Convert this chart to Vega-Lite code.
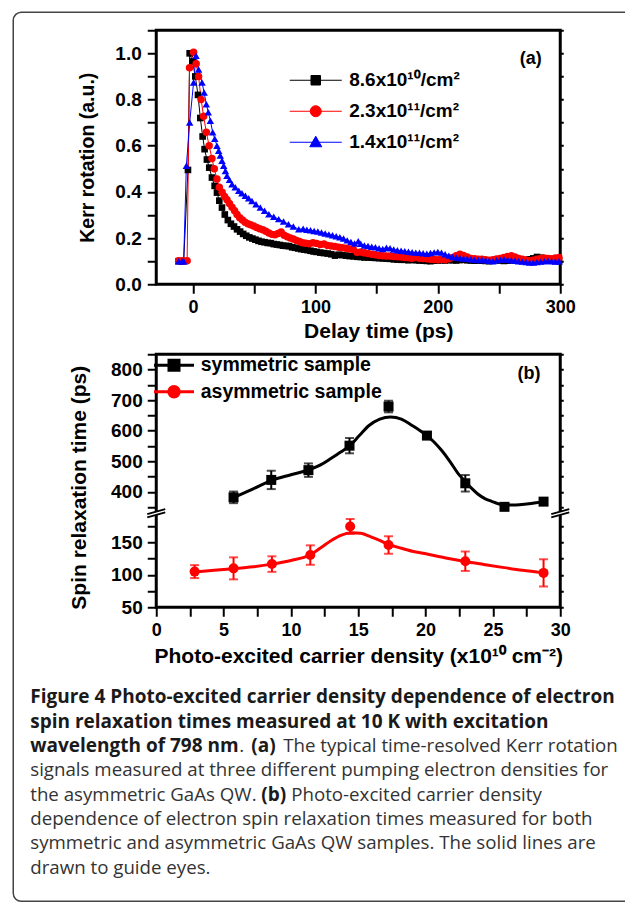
{
"$schema": "https://vega.github.io/schema/vega-lite/v6.json",
"background": "white",
"padding": {"left": 10.25, "top": 9.25, "right": 0, "bottom": 0},
"bounds": "flush",
"spacing": 70,
"resolve": {
  "scale": {"color": "independent", "fill": "independent", "stroke": "independent", "shape": "independent"},
  "legend": {"color": "independent", "fill": "independent", "stroke": "independent", "shape": "independent"}
},
"config": {
  "font": "Liberation Sans",
  "view": {"stroke": null},
  "axis": {"labelFont": "Liberation Sans", "labelFontWeight": "bold", "labelFontSize": 18, "labelColor": "black",
           "titleFont": "Liberation Sans", "titleFontWeight": "bold", "titleFontSize": 21, "titleColor": "black",
           "tickColor": "black", "tickWidth": 2, "tickSize": 9, "domain": false, "grid": false, "zindex": 0,
           "labelFlush": false, "labelOverlap": false, "labelPadding": 5}
},
"datasets": {
  "kerr": [
    {"s":"8.6e10","t":-11.7,"k":0.100},{"s":"8.6e10","t":-9.6,"k":0.100},{"s":"8.6e10","t":-7.6,"k":0.100},{"s":"8.6e10","t":-4.1,"k":0.495},{"s":"8.6e10","t":-2.7,"k":1.000},{"s":"8.6e10","t":-0.4,"k":0.965},{"s":"8.6e10","t":1.9,"k":0.900},{"s":"8.6e10","t":4.1,"k":0.820},{"s":"8.6e10","t":6.0,"k":0.720},{"s":"8.6e10","t":7.9,"k":0.640},{"s":"8.6e10","t":9.5,"k":0.585},{"s":"8.6e10","t":11.4,"k":0.540},{"s":"8.6e10","t":13.3,"k":0.505},{"s":"8.6e10","t":15.5,"k":0.462},{"s":"8.6e10","t":17.7,"k":0.426},{"s":"8.6e10","t":19.6,"k":0.397},{"s":"8.6e10","t":21.5,"k":0.362},{"s":"8.6e10","t":23.7,"k":0.332},{"s":"8.6e10","t":26.0,"k":0.302},{"s":"8.6e10","t":28.5,"k":0.278},{"s":"8.6e10","t":31.0,"k":0.262},{"s":"8.6e10","t":33.5,"k":0.250},{"s":"8.6e10","t":36.0,"k":0.238},{"s":"8.6e10","t":38.5,"k":0.228},{"s":"8.6e10","t":41.0,"k":0.218},{"s":"8.6e10","t":43.5,"k":0.210},{"s":"8.6e10","t":46.0,"k":0.203},{"s":"8.6e10","t":48.5,"k":0.198},{"s":"8.6e10","t":51.0,"k":0.193},{"s":"8.6e10","t":53.5,"k":0.188},{"s":"8.6e10","t":56.0,"k":0.184},{"s":"8.6e10","t":58.5,"k":0.182},{"s":"8.6e10","t":61.0,"k":0.179},{"s":"8.6e10","t":63.5,"k":0.178},{"s":"8.6e10","t":66.0,"k":0.174},{"s":"8.6e10","t":68.5,"k":0.172},{"s":"8.6e10","t":71.0,"k":0.170},{"s":"8.6e10","t":73.5,"k":0.167},{"s":"8.6e10","t":76.0,"k":0.166},{"s":"8.6e10","t":78.5,"k":0.165},{"s":"8.6e10","t":81.0,"k":0.160},{"s":"8.6e10","t":83.5,"k":0.158},{"s":"8.6e10","t":86.0,"k":0.155},{"s":"8.6e10","t":88.5,"k":0.152},{"s":"8.6e10","t":91.0,"k":0.150},{"s":"8.6e10","t":93.5,"k":0.148},{"s":"8.6e10","t":96.0,"k":0.145},{"s":"8.6e10","t":98.5,"k":0.142},{"s":"8.6e10","t":101,"k":0.140},{"s":"8.6e10","t":104,"k":0.137},{"s":"8.6e10","t":107,"k":0.135},{"s":"8.6e10","t":110,"k":0.133},{"s":"8.6e10","t":113,"k":0.130},{"s":"8.6e10","t":116,"k":0.124},{"s":"8.6e10","t":119,"k":0.128},{"s":"8.6e10","t":122,"k":0.126},{"s":"8.6e10","t":125,"k":0.124},{"s":"8.6e10","t":128,"k":0.122},{"s":"8.6e10","t":131,"k":0.121},{"s":"8.6e10","t":134,"k":0.119},{"s":"8.6e10","t":137,"k":0.118},{"s":"8.6e10","t":140,"k":0.116},{"s":"8.6e10","t":143,"k":0.116},{"s":"8.6e10","t":146,"k":0.115},{"s":"8.6e10","t":149,"k":0.114},{"s":"8.6e10","t":152,"k":0.113},{"s":"8.6e10","t":155,"k":0.112},{"s":"8.6e10","t":158,"k":0.111},{"s":"8.6e10","t":161,"k":0.110},{"s":"8.6e10","t":164,"k":0.108},{"s":"8.6e10","t":167,"k":0.107},{"s":"8.6e10","t":170,"k":0.106},{"s":"8.6e10","t":173,"k":0.106},{"s":"8.6e10","t":176,"k":0.104},{"s":"8.6e10","t":179,"k":0.106},{"s":"8.6e10","t":182,"k":0.104},{"s":"8.6e10","t":185,"k":0.103},{"s":"8.6e10","t":188,"k":0.102},{"s":"8.6e10","t":191,"k":0.101},{"s":"8.6e10","t":194,"k":0.100},{"s":"8.6e10","t":197,"k":0.102},{"s":"8.6e10","t":200,"k":0.103},{"s":"8.6e10","t":203,"k":0.104},{"s":"8.6e10","t":206,"k":0.103},{"s":"8.6e10","t":209,"k":0.105},{"s":"8.6e10","t":212,"k":0.104},{"s":"8.6e10","t":215,"k":0.103},{"s":"8.6e10","t":218,"k":0.105},{"s":"8.6e10","t":221,"k":0.106},{"s":"8.6e10","t":224,"k":0.104},{"s":"8.6e10","t":227,"k":0.103},{"s":"8.6e10","t":230,"k":0.102},{"s":"8.6e10","t":233,"k":0.103},{"s":"8.6e10","t":236,"k":0.102},{"s":"8.6e10","t":239,"k":0.101},{"s":"8.6e10","t":242,"k":0.100},{"s":"8.6e10","t":245,"k":0.102},{"s":"8.6e10","t":248,"k":0.104},{"s":"8.6e10","t":251,"k":0.103},{"s":"8.6e10","t":254,"k":0.101},{"s":"8.6e10","t":257,"k":0.102},{"s":"8.6e10","t":260,"k":0.104},{"s":"8.6e10","t":263,"k":0.106},{"s":"8.6e10","t":266,"k":0.104},{"s":"8.6e10","t":269,"k":0.103},{"s":"8.6e10","t":272,"k":0.105},{"s":"8.6e10","t":275,"k":0.108},{"s":"8.6e10","t":278,"k":0.112},{"s":"8.6e10","t":281,"k":0.118},{"s":"8.6e10","t":284,"k":0.115},{"s":"8.6e10","t":287,"k":0.110},{"s":"8.6e10","t":290,"k":0.108},{"s":"8.6e10","t":293,"k":0.104},{"s":"8.6e10","t":296,"k":0.102},{"s":"8.6e10","t":299,"k":0.100},
    {"s":"2.3e11","t":-11.7,"k":0.102},{"s":"2.3e11","t":-8.2,"k":0.102},{"s":"2.3e11","t":-4.8,"k":0.102},{"s":"2.3e11","t":-2.8,"k":0.938},{"s":"2.3e11","t":0.5,"k":1.005},{"s":"2.3e11","t":2.6,"k":0.955},{"s":"2.3e11","t":4.6,"k":0.900},{"s":"2.3e11","t":6.6,"k":0.800},{"s":"2.3e11","t":8.7,"k":0.728},{"s":"2.3e11","t":10.9,"k":0.658},{"s":"2.3e11","t":13.2,"k":0.600},{"s":"2.3e11","t":15.5,"k":0.545},{"s":"2.3e11","t":17.4,"k":0.500},{"s":"2.3e11","t":19.6,"k":0.456},{"s":"2.3e11","t":21.5,"k":0.420},{"s":"2.3e11","t":23.8,"k":0.398},{"s":"2.3e11","t":25.8,"k":0.380},{"s":"2.3e11","t":27.8,"k":0.366},{"s":"2.3e11","t":29.8,"k":0.350},{"s":"2.3e11","t":31.9,"k":0.334},{"s":"2.3e11","t":34.0,"k":0.318},{"s":"2.3e11","t":36.0,"k":0.302},{"s":"2.3e11","t":38.2,"k":0.288},{"s":"2.3e11","t":40.4,"k":0.278},{"s":"2.3e11","t":42.6,"k":0.268},{"s":"2.3e11","t":44.8,"k":0.262},{"s":"2.3e11","t":47.0,"k":0.258},{"s":"2.3e11","t":49.5,"k":0.252},{"s":"2.3e11","t":52.0,"k":0.246},{"s":"2.3e11","t":54.5,"k":0.240},{"s":"2.3e11","t":57.0,"k":0.236},{"s":"2.3e11","t":59.5,"k":0.230},{"s":"2.3e11","t":62.0,"k":0.222},{"s":"2.3e11","t":64.5,"k":0.216},{"s":"2.3e11","t":67.0,"k":0.214},{"s":"2.3e11","t":69.5,"k":0.220},{"s":"2.3e11","t":72.0,"k":0.226},{"s":"2.3e11","t":74.5,"k":0.212},{"s":"2.3e11","t":77.0,"k":0.206},{"s":"2.3e11","t":79.5,"k":0.200},{"s":"2.3e11","t":82.0,"k":0.196},{"s":"2.3e11","t":84.5,"k":0.190},{"s":"2.3e11","t":87.0,"k":0.185},{"s":"2.3e11","t":89.5,"k":0.180},{"s":"2.3e11","t":92.0,"k":0.178},{"s":"2.3e11","t":95.0,"k":0.175},{"s":"2.3e11","t":98.0,"k":0.180},{"s":"2.3e11","t":101,"k":0.177},{"s":"2.3e11","t":104,"k":0.172},{"s":"2.3e11","t":107,"k":0.174},{"s":"2.3e11","t":110,"k":0.168},{"s":"2.3e11","t":113,"k":0.166},{"s":"2.3e11","t":116,"k":0.163},{"s":"2.3e11","t":119,"k":0.160},{"s":"2.3e11","t":122,"k":0.158},{"s":"2.3e11","t":125,"k":0.156},{"s":"2.3e11","t":128,"k":0.153},{"s":"2.3e11","t":131,"k":0.150},{"s":"2.3e11","t":134,"k":0.138},{"s":"2.3e11","t":137,"k":0.140},{"s":"2.3e11","t":140,"k":0.136},{"s":"2.3e11","t":143,"k":0.133},{"s":"2.3e11","t":146,"k":0.130},{"s":"2.3e11","t":149,"k":0.128},{"s":"2.3e11","t":152,"k":0.125},{"s":"2.3e11","t":155,"k":0.123},{"s":"2.3e11","t":158,"k":0.122},{"s":"2.3e11","t":161,"k":0.122},{"s":"2.3e11","t":164,"k":0.120},{"s":"2.3e11","t":167,"k":0.119},{"s":"2.3e11","t":170,"k":0.118},{"s":"2.3e11","t":173,"k":0.116},{"s":"2.3e11","t":176,"k":0.115},{"s":"2.3e11","t":179,"k":0.113},{"s":"2.3e11","t":182,"k":0.116},{"s":"2.3e11","t":185,"k":0.113},{"s":"2.3e11","t":188,"k":0.112},{"s":"2.3e11","t":191,"k":0.110},{"s":"2.3e11","t":194,"k":0.108},{"s":"2.3e11","t":197,"k":0.107},{"s":"2.3e11","t":200,"k":0.106},{"s":"2.3e11","t":203,"k":0.108},{"s":"2.3e11","t":206,"k":0.106},{"s":"2.3e11","t":209,"k":0.110},{"s":"2.3e11","t":212,"k":0.116},{"s":"2.3e11","t":215,"k":0.124},{"s":"2.3e11","t":218,"k":0.130},{"s":"2.3e11","t":221,"k":0.125},{"s":"2.3e11","t":224,"k":0.118},{"s":"2.3e11","t":227,"k":0.112},{"s":"2.3e11","t":230,"k":0.110},{"s":"2.3e11","t":233,"k":0.108},{"s":"2.3e11","t":236,"k":0.108},{"s":"2.3e11","t":239,"k":0.106},{"s":"2.3e11","t":242,"k":0.104},{"s":"2.3e11","t":245,"k":0.106},{"s":"2.3e11","t":248,"k":0.109},{"s":"2.3e11","t":251,"k":0.112},{"s":"2.3e11","t":254,"k":0.116},{"s":"2.3e11","t":257,"k":0.120},{"s":"2.3e11","t":260,"k":0.123},{"s":"2.3e11","t":263,"k":0.118},{"s":"2.3e11","t":266,"k":0.112},{"s":"2.3e11","t":269,"k":0.108},{"s":"2.3e11","t":272,"k":0.105},{"s":"2.3e11","t":275,"k":0.102},{"s":"2.3e11","t":278,"k":0.104},{"s":"2.3e11","t":281,"k":0.108},{"s":"2.3e11","t":284,"k":0.112},{"s":"2.3e11","t":287,"k":0.114},{"s":"2.3e11","t":290,"k":0.112},{"s":"2.3e11","t":293,"k":0.110},{"s":"2.3e11","t":296,"k":0.114},{"s":"2.3e11","t":299,"k":0.116},
    {"s":"1.4e11","t":-11.7,"k":0.100},{"s":"1.4e11","t":-9.0,"k":0.100},{"s":"1.4e11","t":-7.6,"k":0.100},{"s":"1.4e11","t":-5.4,"k":0.513},{"s":"1.4e11","t":-2.7,"k":0.700},{"s":"1.4e11","t":0.5,"k":0.874},{"s":"1.4e11","t":2.5,"k":0.990},{"s":"1.4e11","t":4.6,"k":0.930},{"s":"1.4e11","t":7.4,"k":0.874},{"s":"1.4e11","t":9.1,"k":0.830},{"s":"1.4e11","t":10.9,"k":0.780},{"s":"1.4e11","t":12.5,"k":0.745},{"s":"1.4e11","t":14.2,"k":0.708},{"s":"1.4e11","t":16.1,"k":0.658},{"s":"1.4e11","t":17.8,"k":0.630},{"s":"1.4e11","t":19.6,"k":0.600},{"s":"1.4e11","t":21.0,"k":0.578},{"s":"1.4e11","t":22.3,"k":0.557},{"s":"1.4e11","t":23.7,"k":0.535},{"s":"1.4e11","t":25.1,"k":0.513},{"s":"1.4e11","t":26.5,"k":0.490},{"s":"1.4e11","t":27.8,"k":0.470},{"s":"1.4e11","t":29.8,"k":0.452},{"s":"1.4e11","t":31.9,"k":0.433},{"s":"1.4e11","t":34.5,"k":0.420},{"s":"1.4e11","t":37.4,"k":0.405},{"s":"1.4e11","t":40.0,"k":0.394},{"s":"1.4e11","t":42.8,"k":0.383},{"s":"1.4e11","t":45.5,"k":0.372},{"s":"1.4e11","t":48.2,"k":0.361},{"s":"1.4e11","t":51.5,"k":0.346},{"s":"1.4e11","t":55.0,"k":0.332},{"s":"1.4e11","t":58.5,"k":0.318},{"s":"1.4e11","t":62.0,"k":0.303},{"s":"1.4e11","t":66.0,"k":0.292},{"s":"1.4e11","t":70.0,"k":0.282},{"s":"1.4e11","t":74.0,"k":0.272},{"s":"1.4e11","t":78.0,"k":0.260},{"s":"1.4e11","t":82.0,"k":0.250},{"s":"1.4e11","t":86.4,"k":0.238},{"s":"1.4e11","t":90,"k":0.240},{"s":"1.4e11","t":93,"k":0.236},{"s":"1.4e11","t":96,"k":0.234},{"s":"1.4e11","t":99,"k":0.231},{"s":"1.4e11","t":102,"k":0.228},{"s":"1.4e11","t":105,"k":0.224},{"s":"1.4e11","t":108,"k":0.220},{"s":"1.4e11","t":111,"k":0.216},{"s":"1.4e11","t":114,"k":0.212},{"s":"1.4e11","t":117,"k":0.208},{"s":"1.4e11","t":120,"k":0.204},{"s":"1.4e11","t":123,"k":0.198},{"s":"1.4e11","t":126,"k":0.190},{"s":"1.4e11","t":129,"k":0.183},{"s":"1.4e11","t":132,"k":0.176},{"s":"1.4e11","t":135,"k":0.186},{"s":"1.4e11","t":137,"k":0.175},{"s":"1.4e11","t":140,"k":0.168},{"s":"1.4e11","t":143,"k":0.166},{"s":"1.4e11","t":146,"k":0.162},{"s":"1.4e11","t":149,"k":0.160},{"s":"1.4e11","t":152,"k":0.156},{"s":"1.4e11","t":155,"k":0.153},{"s":"1.4e11","t":158,"k":0.158},{"s":"1.4e11","t":161,"k":0.156},{"s":"1.4e11","t":164,"k":0.150},{"s":"1.4e11","t":167,"k":0.147},{"s":"1.4e11","t":170,"k":0.145},{"s":"1.4e11","t":173,"k":0.143},{"s":"1.4e11","t":176,"k":0.141},{"s":"1.4e11","t":179,"k":0.139},{"s":"1.4e11","t":182,"k":0.137},{"s":"1.4e11","t":185,"k":0.136},{"s":"1.4e11","t":188,"k":0.134},{"s":"1.4e11","t":191,"k":0.132},{"s":"1.4e11","t":194,"k":0.135},{"s":"1.4e11","t":197,"k":0.138},{"s":"1.4e11","t":200,"k":0.140},{"s":"1.4e11","t":203,"k":0.137},{"s":"1.4e11","t":206,"k":0.130},{"s":"1.4e11","t":209,"k":0.124},{"s":"1.4e11","t":212,"k":0.118},{"s":"1.4e11","t":215,"k":0.116},{"s":"1.4e11","t":218,"k":0.114},{"s":"1.4e11","t":221,"k":0.112},{"s":"1.4e11","t":224,"k":0.110},{"s":"1.4e11","t":227,"k":0.108},{"s":"1.4e11","t":230,"k":0.106},{"s":"1.4e11","t":233,"k":0.105},{"s":"1.4e11","t":236,"k":0.106},{"s":"1.4e11","t":239,"k":0.104},{"s":"1.4e11","t":242,"k":0.102},{"s":"1.4e11","t":245,"k":0.100},{"s":"1.4e11","t":248,"k":0.104},{"s":"1.4e11","t":251,"k":0.106},{"s":"1.4e11","t":254,"k":0.108},{"s":"1.4e11","t":257,"k":0.106},{"s":"1.4e11","t":260,"k":0.104},{"s":"1.4e11","t":263,"k":0.102},{"s":"1.4e11","t":266,"k":0.100},{"s":"1.4e11","t":269,"k":0.098},{"s":"1.4e11","t":272,"k":0.096},{"s":"1.4e11","t":275,"k":0.094},{"s":"1.4e11","t":278,"k":0.094},{"s":"1.4e11","t":281,"k":0.096},{"s":"1.4e11","t":284,"k":0.098},{"s":"1.4e11","t":287,"k":0.100},{"s":"1.4e11","t":290,"k":0.102},{"s":"1.4e11","t":293,"k":0.100},{"s":"1.4e11","t":296,"k":0.099},{"s":"1.4e11","t":299,"k":0.100}
  ],
  "sym": [
    {"s":"symmetric sample","n":5.74,"tau":382,"err":19},
    {"s":"symmetric sample","n":8.54,"tau":439,"err":30},
    {"s":"symmetric sample","n":11.3,"tau":471,"err":22},
    {"s":"symmetric sample","n":14.35,"tau":551,"err":25},
    {"s":"symmetric sample","n":17.25,"tau":679,"err":19},
    {"s":"symmetric sample","n":20.1,"tau":584,"err":9},
    {"s":"symmetric sample","n":22.95,"tau":428,"err":27},
    {"s":"symmetric sample","n":25.86,"tau":351,"err":9},
    {"s":"symmetric sample","n":28.76,"tau":368,"err":10}
  ],
  "asym": [
    {"s":"asymmetric sample","n":2.85,"tau":105,"err":10},
    {"s":"asymmetric sample","n":5.74,"tau":110,"err":17},
    {"s":"asymmetric sample","n":8.59,"tau":116.6,"err":12},
    {"s":"asymmetric sample","n":11.44,"tau":130.5,"err":15},
    {"s":"asymmetric sample","n":14.4,"tau":174.6,"err":11.5},
    {"s":"asymmetric sample","n":17.25,"tau":146,"err":13.5},
    {"s":"asymmetric sample","n":22.95,"tau":121,"err":15},
    {"s":"asymmetric sample","n":28.76,"tau":103,"err":21}
  ],
  "symcurve": [
    {"n":5.74,"tau":381},{"n":7.2,"tau":410},{"n":8.54,"tau":437},{"n":10.0,"tau":456},{"n":11.4,"tau":473},{"n":12.2,"tau":488},{"n":13.0,"tau":510},{"n":13.7,"tau":530},{"n":14.35,"tau":550},{"n":15.1,"tau":585},{"n":15.8,"tau":617},{"n":16.6,"tau":638},{"n":17.4,"tau":645},{"n":18.2,"tau":638},{"n":19.0,"tau":617},{"n":19.6,"tau":600},{"n":20.1,"tau":584},{"n":20.7,"tau":560},{"n":21.2,"tau":535},{"n":21.8,"tau":500},{"n":22.45,"tau":458},{"n":22.95,"tau":434},{"n":23.5,"tau":408},{"n":23.9,"tau":392},{"n":24.4,"tau":378},{"n":24.9,"tau":369},{"n":25.4,"tau":361},{"n":25.9,"tau":357},{"n":26.7,"tau":357},{"n":27.5,"tau":360},{"n":28.2,"tau":364},{"n":28.76,"tau":368}
  ],
  "asymcurve": [
    {"n":2.85,"tau":104.5},{"n":4.3,"tau":107},{"n":5.74,"tau":109.5},{"n":7.2,"tau":112.5},{"n":8.59,"tau":116.5},{"n":10.0,"tau":122},{"n":11.44,"tau":131},{"n":12.3,"tau":143},{"n":13.0,"tau":153},{"n":13.7,"tau":161},{"n":14.5,"tau":165},{"n":15.2,"tau":164},{"n":15.9,"tau":159},{"n":16.6,"tau":153},{"n":17.25,"tau":147},{"n":18.2,"tau":141},{"n":19.0,"tau":136.5},{"n":20.1,"tau":132},{"n":21.5,"tau":126},{"n":22.95,"tau":120.5},{"n":24.3,"tau":116},{"n":25.7,"tau":111.5},{"n":27.2,"tau":107},{"n":28.76,"tau":103}
  ],
  "caption": [
    {"line":1,"col":0,"bold":true,"txt":"Figure 4 Photo-excited carrier density dependence of electron"},
    {"line":2,"col":0,"bold":true,"txt":"spin relaxation times measured at 10 K with excitation"},
    {"line":3,"col":0,"bold":true,"txt":"wavelength of 798 nm"},
    {"line":3,"col":209,"bold":false,"txt":"."},
    {"line":3,"col":221,"bold":true,"txt":"(a)"},
    {"line":3,"col":253,"bold":false,"txt":"The typical time-resolved Kerr rotation"},
    {"line":4,"col":0,"bold":false,"txt":"signals measured at three different pumping electron densities for"},
    {"line":5,"col":0,"bold":false,"txt":"the asymmetric GaAs QW."},
    {"line":5,"col":231,"bold":true,"txt":"(b)"},
    {"line":5,"col":261,"bold":false,"txt":"Photo-excited carrier density"},
    {"line":6,"col":0,"bold":false,"txt":"dependence of electron spin relaxation times measured for both"},
    {"line":7,"col":0,"bold":false,"txt":"symmetric and asymmetric GaAs QW samples. The solid lines are"},
    {"line":8,"col":0,"bold":false,"txt":"drawn to guide eyes."}
  ]
},
"vconcat": [
  {
    "width": 404, "height": 254,
    "view": {"stroke": "black", "strokeWidth": 3},
    "data": {"name": "kerr"},
    "encoding": {
      "x": {"field": "t", "type": "quantitative", "title": "Delay time (ps)",
            "scale": {"domain": [-30, 300], "nice": false, "zero": false},
            "axis": {"values": [0,50,100,150,200,250,300], "labelExpr": "datum.value % 100 == 0 ? datum.label : ''", "titlePadding": 4, "titleX": 222}}
    },
    "layer": [
      {"transform": [{"filter": "datum.s == '8.6e10'"}],
       "mark": {"type": "line", "strokeWidth": 1, "color": "#000000"},
       "encoding": {
         "y": {"field": "k", "type": "quantitative", "title": "Kerr rotation (a.u.)",
               "scale": {"domain": [0, 1.1], "nice": false},
               "axis": {"orient": "left", "values": [0,0.1,0.2,0.3,0.4,0.5,0.6,0.7,0.8,0.9,1.0,1.1], "format": ".1f",
                        "labelExpr": "(round(datum.value*10) % 2 == 0 && datum.value < 1.05) ? datum.label : ''",
                        "labelFontSize": 19, "titleFontSize": 19.5, "titlePadding": 17, "labelPadding": 6}}
       }},
      {"transform": [{"filter": "datum.s == '2.3e11'"}],
       "mark": {"type": "line", "strokeWidth": 1, "color": "#ff0000"},
       "encoding": {"y": {"field": "k", "type": "quantitative", "axis": null}}},
      {"transform": [{"filter": "datum.s == '1.4e11'"}],
       "mark": {"type": "line", "strokeWidth": 1, "color": "#0000ff"},
       "encoding": {"y": {"field": "k", "type": "quantitative", "axis": null}}},
      {"transform": [{"filter": "datum.s == '8.6e10'"}],
       "mark": {"type": "point", "shape": "square", "filled": true, "opacity": 1, "size": 44, "color": "#000000"},
       "encoding": {"y": {"field": "k", "type": "quantitative", "axis": null}}},
      {"transform": [{"filter": "datum.s == '2.3e11'"}],
       "mark": {"type": "point", "shape": "circle", "filled": true, "opacity": 1, "size": 56, "color": "#ff0000"},
       "encoding": {"y": {"field": "k", "type": "quantitative", "axis": null}}},
      {"transform": [{"filter": "datum.s == '1.4e11'"}],
       "mark": {"type": "point", "shape": "triangle-up", "filled": true, "opacity": 1, "size": 56, "color": "#0000ff"},
       "encoding": {"y": {"field": "k", "type": "quantitative", "axis": null}}},
      {"transform": [{"filter": "false"}],
       "mark": {"type": "point", "filled": true, "opacity": 1, "size": 100, "strokeWidth": 1},
       "encoding": {
         "fill": {"field": "s", "type": "nominal", "scale": {"domain": ["8.6e10","2.3e11","1.4e11"], "range": ["#000000","#ff0000","#0000ff"]},
                  "legend": {"title": null, "orient": "none", "legendX": 150, "legendY": 40.5, "padding": 0, "labelFont": "Liberation Sans", "labelFontSize": 19, "labelFontWeight": "bold", "labelColor": "black", "labelOffset": 24, "rowPadding": 11, "symbolSize": 100, "symbolStrokeWidth": 1, "symbolOpacity": 1, "labelLimit": 300,
                             "labelExpr": "datum.label == '8.6e10' ? '8.6x10¹⁰/cm²' : datum.label == '2.3e11' ? '2.3x10¹¹/cm²' : '1.4x10¹¹/cm²'"}},
         "stroke": {"field": "s", "type": "nominal", "scale": {"domain": ["8.6e10","2.3e11","1.4e11"], "range": ["#000000","#ff0000","#0000ff"]},
                  "legend": {"title": null, "orient": "none", "legendX": 150, "legendY": 40.5, "padding": 0, "labelFont": "Liberation Sans", "labelFontSize": 19, "labelFontWeight": "bold", "labelColor": "black", "labelOffset": 24, "rowPadding": 11, "symbolSize": 100, "symbolStrokeWidth": 1, "symbolOpacity": 1, "labelLimit": 300,
                             "labelExpr": "datum.label == '8.6e10' ? '8.6x10¹⁰/cm²' : datum.label == '2.3e11' ? '2.3x10¹¹/cm²' : '1.4x10¹¹/cm²'"}},
         "shape": {"field": "s", "type": "nominal", "scale": {"domain": ["8.6e10","2.3e11","1.4e11"], "range": ["M-5.2,0H5.2M-0.95,-0.95H0.95V0.95H-0.95Z", "M-5.2,0H5.2M1.1,0A1.1,1.1,0,1,1,-1.1,0A1.1,1.1,0,1,1,1.1,0Z", "M-5.2,0H5.2M0,-1.2L1.2,0.9L-1.2,0.9Z"]},
                  "legend": {"title": null, "orient": "none", "legendX": 150, "legendY": 40.5, "padding": 0, "labelFont": "Liberation Sans", "labelFontSize": 19, "labelFontWeight": "bold", "labelColor": "black", "labelOffset": 24, "rowPadding": 11, "symbolSize": 100, "symbolStrokeWidth": 1, "symbolOpacity": 1, "labelLimit": 300,
                             "labelExpr": "datum.label == '8.6e10' ? '8.6x10¹⁰/cm²' : datum.label == '2.3e11' ? '2.3x10¹¹/cm²' : '1.4x10¹¹/cm²'"}}
       }},
      {"transform": [{"filter": "false"}],
       "mark": {"type": "point", "opacity": 0},
       "encoding": {
         "y": {"field": "k", "type": "quantitative", "axis": {"orient": "right", "labels": false, "title": null, "tickSize": 3, "values": [0,0.1,0.2,0.3,0.4,0.5,0.6,0.7,0.8,0.9,1.0,1.1]}}
       }},
      {"transform": [{"filter": "datum.s == '1.4e11' && datum.t == 299"}],
       "mark": {"type": "text", "text": "(a)", "font": "Liberation Sans", "fontSize": 18, "fontWeight": "bold", "color": "black", "align": "center", "baseline": "middle"},
       "encoding": {"x": {"datum": 276}, "y": {"datum": 0.976, "type": "quantitative", "axis": null}}}
    ],
    "resolve": {"axis": {"y": "independent"}}
  },
  {
    "width": 404, "height": 253,
    "view": {"stroke": "black", "strokeWidth": 3},
    "encoding": {
      "x": {"field": "n", "type": "quantitative", "title": "Photo-excited carrier density (x10¹⁰ cm⁻²)",
            "scale": {"domain": [0, 30], "nice": false, "zero": false},
            "axis": {"values": [0,2.5,5,7.5,10,12.5,15,17.5,20,22.5,25,27.5,30], "labelExpr": "datum.value % 5 == 0 ? datum.label : ''", "titlePadding": 6}}
    },
    "layer": [
      {
        "data": {"name": "sym"},
        "layer": [
          {"data": {"name": "symcurve"},
           "mark": {"type": "line", "strokeWidth": 3, "color": "black", "interpolate": "monotone"},
           "encoding": {"y": {"field": "tau", "type": "quantitative", "title": "Spin relaxation time (ps)",
                              "scale": {"domain": [330, 850], "range": [159, 0], "nice": false, "zero": false},
                              "axis": {"orient": "left", "values": [350,400,450,500,550,600,650,700,750,800,850],
                                       "labelExpr": "(datum.value % 100 == 0 && datum.value <= 800) ? datum.label : ''",
                                       "labelFontSize": 19, "titleY": 133, "titlePadding": 21, "labelPadding": 5}}}},
          {"mark": {"type": "errorbar", "ticks": true, "size": 9, "thickness": 2, "color": "black"},
           "encoding": {"y": {"field": "tau", "type": "quantitative", "axis": null}, "yError": {"field": "err"}}},
          {"mark": {"type": "point", "shape": "square", "filled": true, "size": 100, "color": "black", "opacity": 1},
           "encoding": {"y": {"field": "tau", "type": "quantitative", "axis": null}}},
          {"transform": [{"filter": "false"}],
           "mark": {"type": "point", "filled": true, "opacity": 1, "size": 100, "strokeWidth": 3},
           "encoding": {
             "fill": {"field": "s", "type": "nominal", "scale": {"domain": ["symmetric sample","asymmetric sample"], "range": ["#000000","#ff0000"]},
                      "legend": {"title": null, "orient": "none", "legendX": 8, "legendY": 1.25, "padding": 0, "labelFont": "Liberation Sans", "labelFontSize": 19.5, "labelFontWeight": "bold", "labelColor": "black", "labelOffset": 17, "rowPadding": 3.5, "symbolSize": 100, "symbolStrokeWidth": 3, "symbolOpacity": 1, "labelLimit": 300}},
             "stroke": {"field": "s", "type": "nominal", "scale": {"domain": ["symmetric sample","asymmetric sample"], "range": ["#000000","#ff0000"]},
                      "legend": {"title": null, "orient": "none", "legendX": 8, "legendY": 1.25, "padding": 0, "labelFont": "Liberation Sans", "labelFontSize": 19.5, "labelFontWeight": "bold", "labelColor": "black", "labelOffset": 17, "rowPadding": 3.5, "symbolSize": 100, "symbolStrokeWidth": 3, "symbolOpacity": 1, "labelLimit": 300}},
             "shape": {"field": "s", "type": "nominal", "scale": {"domain": ["symmetric sample","asymmetric sample"], "range": ["M-4,0H4M-1,-1H1V1H-1Z", "M-4,0H4M1.05,0A1.05,1.05,0,1,1,-1.05,0A1.05,1.05,0,1,1,1.05,0Z"]},
                      "legend": {"title": null, "orient": "none", "legendX": 8, "legendY": 1.25, "padding": 0, "labelFont": "Liberation Sans", "labelFontSize": 19.5, "labelFontWeight": "bold", "labelColor": "black", "labelOffset": 17, "rowPadding": 3.5, "symbolSize": 100, "symbolStrokeWidth": 3, "symbolOpacity": 1, "labelLimit": 300}}
           }},
          {"transform": [{"filter": "false"}],
           "mark": {"type": "point", "opacity": 0},
           "encoding": {"y": {"field": "tau", "type": "quantitative", "axis": {"orient": "right", "labels": false, "title": null, "tickSize": 3, "values": [350,400,450,500,550,600,650,700,750,800,850]}}}},
          {"transform": [{"filter": "datum.n == 5.74"}],
           "mark": {"type": "text", "text": "(b)", "font": "Liberation Sans", "fontSize": 18, "fontWeight": "bold", "color": "black", "align": "center", "baseline": "middle"},
           "encoding": {"x": {"datum": 27.67}, "y": {"datum": 786, "type": "quantitative", "axis": null}}}
        ],
        "resolve": {"axis": {"y": "independent"}}
      },
      {
        "data": {"name": "asym"},
        "layer": [
          {"data": {"name": "asymcurve"},
           "mark": {"type": "line", "strokeWidth": 3, "color": "#ff0000", "interpolate": "monotone"},
           "encoding": {"y": {"field": "tau", "type": "quantitative", "title": null,
                              "scale": {"domain": [50, 195], "range": [253, 159], "nice": false, "zero": false},
                              "axis": {"orient": "left", "values": [50,75,100,125,150,175],
                                       "labelExpr": "datum.value % 50 == 0 ? datum.label : ''", "labelFontSize": 19, "labelPadding": 5}}}},
          {"mark": {"type": "errorbar", "ticks": true, "size": 9, "thickness": 2, "color": "#ff0000"},
           "encoding": {"y": {"field": "tau", "type": "quantitative", "axis": null}, "yError": {"field": "err"}}},
          {"mark": {"type": "point", "shape": "circle", "filled": true, "size": 100, "color": "#ff0000", "opacity": 1},
           "encoding": {"y": {"field": "tau", "type": "quantitative", "axis": null}}},
          {"transform": [{"filter": "false"}],
           "mark": {"type": "point", "opacity": 0},
           "encoding": {"y": {"field": "tau", "type": "quantitative", "axis": {"orient": "right", "labels": false, "title": null, "tickSize": 3, "values": [50,75,100,125,150,175]}}}}
        ],
        "resolve": {"axis": {"y": "independent"}}
      },
      {"data": {"name": "sym"},
       "transform": [{"filter": "datum.n == 5.74"}],
       "layer": [
         {"mark": {"type": "point", "shape": "M-9,0.9L9,-4.1L9,-0.9L-9,4.1Z", "size": 4, "filled": true, "fill": "white", "strokeWidth": 0, "opacity": 1},
          "encoding": {"x": {"datum": 0}, "y": {"datum": 195, "type": "quantitative", "scale": {"domain": [50, 195], "range": [253, 159]}, "axis": null}}},
         {"mark": {"type": "point", "shape": "M-9,0.9L9,-4.1L9,-0.9L-9,4.1Z", "size": 4, "filled": true, "fill": "white", "strokeWidth": 0, "opacity": 1},
          "encoding": {"x": {"datum": 30}, "y": {"datum": 195, "type": "quantitative", "scale": {"domain": [50, 195], "range": [253, 159]}, "axis": null}}},
         {"mark": {"type": "point", "shape": "M-9,0.9L9,-4.1M-9,4.1L9,-0.9", "size": 4, "filled": false, "stroke": "black", "strokeWidth": 2, "opacity": 1},
          "encoding": {"x": {"datum": 0}, "y": {"datum": 195, "type": "quantitative", "scale": {"domain": [50, 195], "range": [253, 159]}, "axis": null}}},
         {"mark": {"type": "point", "shape": "M-9,0.9L9,-4.1M-9,4.1L9,-0.9", "size": 4, "filled": false, "stroke": "black", "strokeWidth": 2, "opacity": 1},
          "encoding": {"x": {"datum": 30}, "y": {"datum": 195, "type": "quantitative", "scale": {"domain": [50, 195], "range": [253, 159]}, "axis": null}}}
       ]}
    ],
    "resolve": {"scale": {"y": "independent"}, "axis": {"y": "independent"}}
  },
  {
    "width": 404, "height": 210,
    "data": {"name": "caption"},
    "encoding": {
      "x": {"field": "col", "type": "quantitative", "scale": {"domain": [0, 604], "range": [-126, 478]}, "axis": null},
      "y": {"field": "line", "type": "quantitative", "scale": {"domain": [0.1786, 8.803], "range": [0, 210]}, "axis": null}
    },
    "layer": [
      {"transform": [{"filter": "datum.bold"}],
       "mark": {"type": "text", "align": "left", "baseline": "middle", "font": "Open Sans", "fontSize": 19, "fontWeight": "bold", "color": "#1a1a1a"},
       "encoding": {"text": {"field": "txt"}}},
      {"transform": [{"filter": "!datum.bold"}],
       "mark": {"type": "text", "align": "left", "baseline": "middle", "font": "Open Sans", "fontSize": 18.7, "fontWeight": "normal", "color": "#333333"},
       "encoding": {"text": {"field": "txt"}}},
      {"transform": [{"filter": "datum.line == 8"}],
       "mark": {"type": "point", "shape": "M613,0H8A8,8,0,0,0,0,8V881A8,8,0,0,0,8,889H613", "size": 4, "filled": false, "stroke": "#444444", "strokeWidth": 1.5, "opacity": 1},
       "encoding": {"x": {"datum": -17}, "y": {"datum": -27.13}}}
    ]
  }
]
}
